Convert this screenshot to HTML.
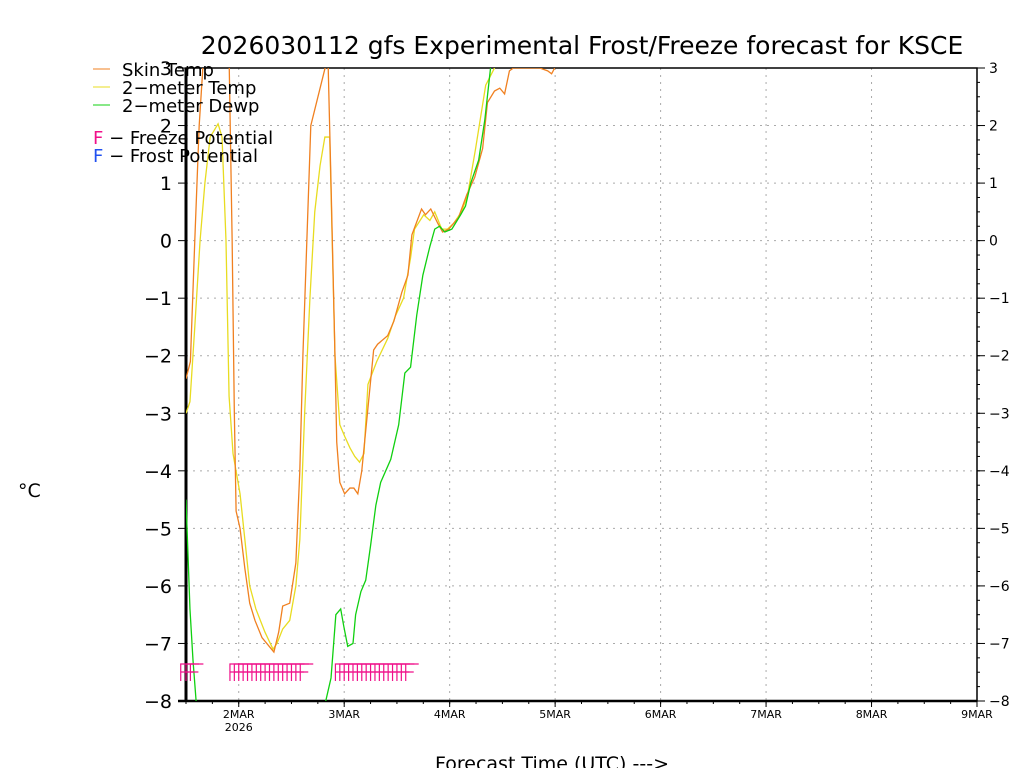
<!DOCTYPE html>
<html><head><meta charset="utf-8"><style>
html,body{margin:0;padding:0;background:#fff;}
svg{display:block;font-family:"DejaVu Sans","Liberation Sans",sans-serif;}
</style></head><body>
<svg id="chart" width="1024" height="768" viewBox="0 0 1024 768">
<text x="582" y="54" font-size="25" text-anchor="middle">2026030112 gfs Experimental Frost/Freeze forecast for KSCE</text>
<g id="grid"></g>
<g id="axes"></g>
<defs><clipPath id="pc"><rect x="186" y="68" width="791" height="633"/></clipPath></defs>
<g id="series" clip-path="url(#pc)"></g>
<g id="freeze"></g>
<g font-size="18">
<line x1="93" y1="69" x2="110" y2="69" stroke="#f08020"/>
<text x="122" y="76">Skin Temp</text>
<line x1="93" y1="87" x2="110" y2="87" stroke="#e8dc20"/>
<text x="122" y="94">2−meter Temp</text>
<line x1="93" y1="105" x2="110" y2="105" stroke="#10d010"/>
<text x="122" y="112">2−meter Dewp</text>
<text x="93" y="144"><tspan fill="#f0108a">F</tspan> − Freeze Potential</text>
<text x="93" y="162"><tspan fill="#2050f0">F</tspan> − Frost Potential</text>
</g>
<text x="18" y="497" font-size="19">°C</text>
<text x="435" y="770" font-size="19">Forecast Time (UTC) ---&gt;</text>
</svg>
<script>
// hours since 2026-03-01 12Z
const skinH=[0,1,2,3,4,9.8,10.5,11,11.4,12.3,13.4,14.5,15.7,17.3,20,21.1,22,23.6,25,25.9,26.6,27.5,28.4,32.3,33,33.9,34.3,35,36.1,37.3,38.2,39.1,40,42.7,43.6,45.9,47.3,49.1,50.5,51.4,53.6,54.5,55.7,57.3,58.4,59.8,62,63.9,65.7,67.5,68.6,70.2,71.4,72.5,73.6,74.5,80.5,82.3,83.2,83.9];
const skinV=[-2.4,-2.1,0,2,3.2,3.2,0,-3,-4.7,-5,-5.7,-6.3,-6.6,-6.9,-7.15,-6.8,-6.35,-6.3,-5.6,-4,-2,0,2,3.2,1,-2,-3.5,-4.2,-4.4,-4.3,-4.3,-4.4,-4.0,-1.9,-1.8,-1.65,-1.4,-0.9,-0.6,0.1,0.55,0.45,0.55,0.3,0.15,0.2,0.4,0.8,1.1,1.6,2.4,2.6,2.65,2.55,2.95,3,3,2.95,2.9,3];
const tempH=[0,0.9,2,3.2,4.3,5.5,7.3,8.2,9.1,9.8,10.7,12.3,13.4,14.5,15.9,17.95,19.8,20.7,22,23.6,25,25.9,27,28.2,29.3,30.5,31.6,32.7,33.9,35,36.1,37.3,38.4,39.5,40.5,41.4,43.4,45.9,47.7,49.5,51.1,52,54.1,55.5,56.6,58.2,59.5,60.9,62.7,64.1,65.9,68.2,70.2,70.9];
const tempV=[-3,-2.8,-1.5,0,1,1.8,2.03,1.8,0,-2.7,-3.7,-4.4,-5.2,-6,-6.4,-6.8,-7.1,-7,-6.75,-6.6,-6,-5.2,-3,-1,0.5,1.3,1.8,1.8,-2,-3.2,-3.4,-3.6,-3.75,-3.85,-3.7,-2.5,-2.1,-1.7,-1.3,-1,-0.3,0.2,0.45,0.35,0.5,0.2,0.2,0.3,0.5,0.8,1.6,2.7,3,3.2];
const dewH=[0,0.9,1.6,2.3,3,30.5,31.8,33,34.1,35.2,35.9,36.8,38,38.6,39.8,40.9,42,43.2,44.3,46.6,48.4,49.8,51.1,52.5,53.9,55.5,56.6,57.7,58.9,60.5,62.5,63.6,64.8,66.6,68,69.3,70.5];
const dewV=[-4.5,-6.4,-7.3,-8,-8.6,-8.6,-8,-7.6,-6.5,-6.4,-6.7,-7.05,-7,-6.5,-6.1,-5.9,-5.3,-4.6,-4.2,-3.8,-3.2,-2.3,-2.2,-1.3,-0.6,-0.1,0.2,0.25,0.15,0.2,0.45,0.6,1,1.4,2.1,3,3.2];
const freezeHours=[-1.2,0,1,10,11,12,13,14,15,16,17,18,19,20,21,22,23,24,25,26,34,35,36,37,38,39,40,41,42,43,44,45,46,47,48,49,50];
const yTicks=[3,2,1,0,-1,-2,-3,-4,-5,-6,-7,-8];
const dayLabels=["2MAR","3MAR","4MAR","5MAR","6MAR","7MAR","8MAR","9MAR"];

const X0=186,X1=977,Y0=68,Y1=701,HOURS=180;
const xs=h=>X0+(X1-X0)*h/HOURS;
const ys=v=>Y1-(Y1-Y0)*(v+8)/11;
const NS="http://www.w3.org/2000/svg";
function mk(tag,parent,attrs){const e=document.createElementNS(NS,tag);for(const k in attrs)e.setAttribute(k,attrs[k]);parent.appendChild(e);return e;}
const grid=document.getElementById('grid'),axes=document.getElementById('axes'),series=document.getElementById('series'),fz=document.getElementById('freeze');

yTicks.forEach(v=>{
  const y=ys(v);
  if(v>-8&&v<3){const g=mk('line',grid,{x1:X0,x2:X1,y1:y,y2:y,stroke:'#aaa','stroke-dasharray':'2,5'});
  
  }
  const t1=mk('line',axes,{x1:X0-8,x2:X0,y1:y,y2:y,stroke:'#000'});
  
  
  const t2=mk('line',axes,{x1:X1,x2:X1+8,y1:y,y2:y,stroke:'#000'});
  
  
  const lab=mk('text',axes,{x:X0-14,y:y+7,'font-size':'19','text-anchor':'end'});
  lab.textContent=(v<0?'−':'')+Math.abs(v);
  
  
  const lab2=mk('text',axes,{x:X1+12,y:y+5,'font-size':'14'});
  lab2.textContent=(v<0?'−':'')+Math.abs(v);
  
  
});
for(let v=-8;v<=3.001;v+=0.25){const y=ys(v);mk('line',axes,{x1:X1,x2:X1+3,y1:y,y2:y,stroke:'#000'});}
dayLabels.forEach((d,i)=>{
  const x=xs(12+24*i);
  if(i<dayLabels.length-1){const g=mk('line',grid,{x1:x,x2:x,y1:Y0,y2:Y1,stroke:'#aaa','stroke-dasharray':'2,5'});
  
  }
  const t=mk('line',axes,{x1:x,x2:x,y1:Y1,y2:Y1+6,stroke:'#000'});
  
  
  const lab=mk('text',axes,{x:x,y:Y1+17,'font-size':'11','text-anchor':'middle'});
  lab.textContent=d;
  
  
});
for(let h=0;h<=HOURS;h+=6){const x=xs(h);mk('line',axes,{x1:x,x2:x,y1:Y1,y2:Y1+3,stroke:'#000'});}
const yr=mk('text',axes,{x:xs(12),y:Y1+30,'font-size':'11','text-anchor':'middle'});
yr.textContent='2026';


const frame=mk('rect',axes,{x:X0,y:Y0,width:X1-X0,height:Y1-Y0,fill:'none',stroke:'#000','stroke-width':'1.5'});


mk('line',axes,{x1:X0,x2:X0,y1:Y0,y2:Y1,stroke:'#000','stroke-width':'3'});
mk('line',axes,{x1:X0-8,x2:X1,y1:Y1,y2:Y1,stroke:'#000','stroke-width':'2.5'});

function line(H,V,color,name){
  const p=mk('polyline',series,{points:H.map((h,i)=>xs(h)+','+ys(V[i])).join(' '),fill:'none',stroke:color,'stroke-width':'1.3'});
  
  
}
line(tempH,tempV,'#e8dc20','2m-temp-line');
line(skinH,skinV,'#f08020','skin-temp-line');
line(dewH,dewV,'#10d010','2m-dewp-line');

freezeHours.forEach(h=>{
  const x=xs(h);
  const f=mk('path',fz,{d:`M${x} 681V664H${x+13}M${x} 672H${x+8}`,fill:'none',stroke:'#f0108a','stroke-width':'1.2'});
  
  
});
</script>
</body></html>
